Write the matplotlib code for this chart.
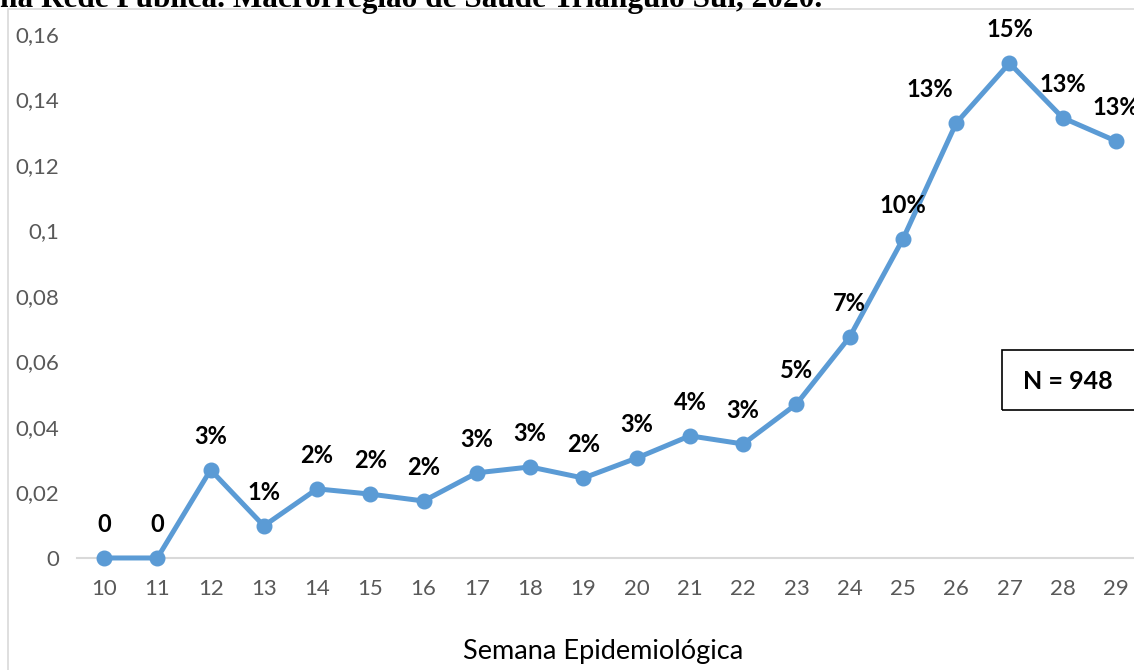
import matplotlib.pyplot as plt
from matplotlib.patches import Rectangle

semanas = [10, 11, 12, 13, 14, 15, 16, 17, 18, 19, 20, 21, 22, 23, 24, 25, 26, 27, 28, 29]
proporcao = [0, 0, 0.0269, 0.0098, 0.0211, 0.0195, 0.0174, 0.0260, 0.0278, 0.0244,
             0.0305, 0.0373, 0.0348, 0.0470, 0.0675, 0.0974, 0.1328, 0.1511, 0.1344, 0.1273]
rotulos = ["0", "0", "3%", "1%", "2%", "2%", "2%", "3%", "3%", "2%",
           "3%", "4%", "3%", "5%", "7%", "10%", "13%", "15%", "13%", "13%"]
yticks = [0, 0.02, 0.04, 0.06, 0.08, 0.1, 0.12, 0.14, 0.16]
ytick_labels = ["0", "0,02", "0,04", "0,06", "0,08", "0,1", "0,12", "0,14", "0,16"]

plt.rcParams['font.family'] = ['Lato', 'DejaVu Sans']

fig = plt.figure(figsize=(11.34, 6.70), dpi=100)
ax = fig.add_axes([0.0683, 0.1672, 0.9393, 0.7821])

cor = "#5B9BD5"
ax.plot(semanas, proporcao, color=cor, linewidth=3.6, marker="o", markersize=10.5,
        solid_capstyle="round", zorder=3, clip_on=False)

# small nudges for labels that Excel pushed sideways
nudge = {16: -19}
for i, (x, y, t) in enumerate(zip(semanas, proporcao, rotulos)):
    ax.annotate(t, (x, y), xytext=(nudge.get(i, 0), 24), textcoords="offset points",
                ha="center", va="center", fontsize=17, fontweight="bold", color="black")

ax.set_xlim(9.5, 29.5)
ax.set_ylim(0, 0.16)
ax.set_xticks(semanas)
ax.set_xticklabels([str(s) for s in semanas])
ax.set_yticks(yticks)
ax.set_yticklabels(ytick_labels)
ax.tick_params(axis="both", length=0, labelsize=16, labelcolor="#595959")
ax.tick_params(axis="x", pad=15)
ax.tick_params(axis="y", pad=13)
for s in ["top", "right", "left"]:
    ax.spines[s].set_visible(False)
ax.spines["bottom"].set_color("#D9D9D9")
ax.spines["bottom"].set_linewidth(1.5)

ax.set_xlabel("Semana Epidemiológica", fontsize=19.5, color="black")
ax.xaxis.label.set_va("center")
ax.xaxis.set_label_coords((603 - 77.4) / (0.9393 * 1134), -(652 - 558) / (0.7821 * 670))

# chart border
fig.patches.append(Rectangle((8 / 1134, -0.1), 1.2, 1 - 9 / 670 + 0.1, transform=fig.transFigure,
                             fill=False, edgecolor="#D9D9D9", linewidth=1.2))

# cut-off title from the page above
fig.text(0.0, 1 - 7 / 670, "na Rede Pública. Macrorregião de Saúde Triângulo Sul, 2020.",
         family=["Liberation Serif", "DejaVu Serif"], fontweight="bold", fontsize=22.5,
         ha="left", va="baseline")

# N box
fig.text(1068 / 1134, 1 - 381 / 670, "N = 948", fontsize=18, fontweight="bold",
         ha="center", va="center")
fig.patches.append(Rectangle((1002 / 1134, 1 - 410 / 670), 0.2, 60 / 670, transform=fig.transFigure,
                             fill=False, edgecolor="black", linewidth=1.2))

fig.savefig("out.png", dpi=100)
